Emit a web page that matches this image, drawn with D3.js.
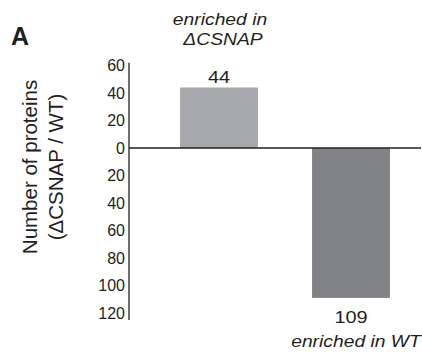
<!DOCTYPE html>
<html>
<head>
<meta charset="utf-8">
<script src="https://cdn.jsdelivr.net/npm/d3@7"></script>
<style>
  body { margin: 0; background: #fff; }
  svg text { font-family: "Liberation Sans", Arial, sans-serif; fill: #231f20; }
</style>
</head>
<body>
<svg id="chart" width="422" height="352"></svg>
<script>
const categories = ["ΔCSNAP", "WT"];
const counts = [44, -109];
const barColors = ["#a7a9ac", "#808285"];
const yTicks = [60, 40, 20, 0, -20, -40, -60, -80, -100, -120];

const svg = d3.select("#chart");

const y = d3.scaleLinear().domain([0, -120]).range([148, 313]);
const x = d3.scaleBand()
    .domain(categories)
    .range([153, 417])
    .paddingInner(0.41)
    .paddingOuter(0.205);

// the source figure's type is a bit wider than it is tall
function wideText(px, py, str, size, italic, sx = 1.17) {
    return svg.append("text")
        .attr("transform", `translate(${px},${py}) scale(${sx},1)`)
        .attr("text-anchor", "middle")
        .style("font-size", size + "px")
        .style("font-style", italic ? "italic" : "normal")
        .text(str);
}

// bars
svg.selectAll("rect.bar")
    .data(categories)
    .enter()
    .append("rect")
    .attr("class", "bar")
    .attr("x", (d) => x(d))
    .attr("width", x.bandwidth())
    .attr("y", (d, i) => y(Math.max(0, counts[i])))
    .attr("height", (d, i) => Math.abs(y(counts[i]) - y(0)))
    .attr("fill", (d, i) => barColors[i]);

// y axis
const axis = svg.append("g")
    .attr("transform", "translate(129,0)")
    .call(d3.axisLeft(y)
        .tickValues(yTicks)
        .tickSize(0)
        .tickPadding(4)
        .tickFormat((d) => Math.abs(d)));
axis.select(".domain").remove();
axis.selectAll("text")
    .style("font-size", "16px")
    .attr("fill", "#231f20");
svg.append("line")
    .attr("x1", 129).attr("x2", 129)
    .attr("y1", y(62)).attr("y2", y(-125))
    .attr("stroke", "#231f20")
    .attr("stroke-width", 1.3);

// zero line
svg.append("line")
    .attr("x1", 129).attr("x2", 421)
    .attr("y1", y(0)).attr("y2", y(0))
    .attr("stroke", "#231f20")
    .attr("stroke-width", 1.5);

// value labels
categories.forEach((c, i) => {
    const cx = x(c) + x.bandwidth() / 2;
    const py = counts[i] > 0 ? y(counts[i]) - 5 : y(counts[i]) + 25;
    wideText(cx, py, Math.abs(counts[i]), 17, false);
});

// enrichment captions
const capX0 = x(categories[0]) + x.bandwidth() / 2;
const capX1 = x(categories[1]) + x.bandwidth() / 2;
wideText(capX0 + 1, 25, "enriched in", 16.5, true);
wideText(capX0 + 4, 45, "ΔCSNAP", 16.5, true);
wideText(capX1 + 5, 347, "enriched in WT", 16.5, true);

// panel letter
svg.append("text")
    .attr("x", 11).attr("y", 45)
    .style("font-size", "25px").style("font-weight", "bold")
    .text("A");

// y label
const yl = svg.append("text")
    .attr("transform", "translate(37,167) rotate(-90)")
    .attr("text-anchor", "middle")
    .style("font-size", "20.5px");
yl.append("tspan").attr("x", 0).attr("dy", 0).text("Number of proteins");
yl.append("tspan").attr("x", 0).attr("dy", 26).text("(ΔCSNAP / WT)");
</script>
</body>
</html>
